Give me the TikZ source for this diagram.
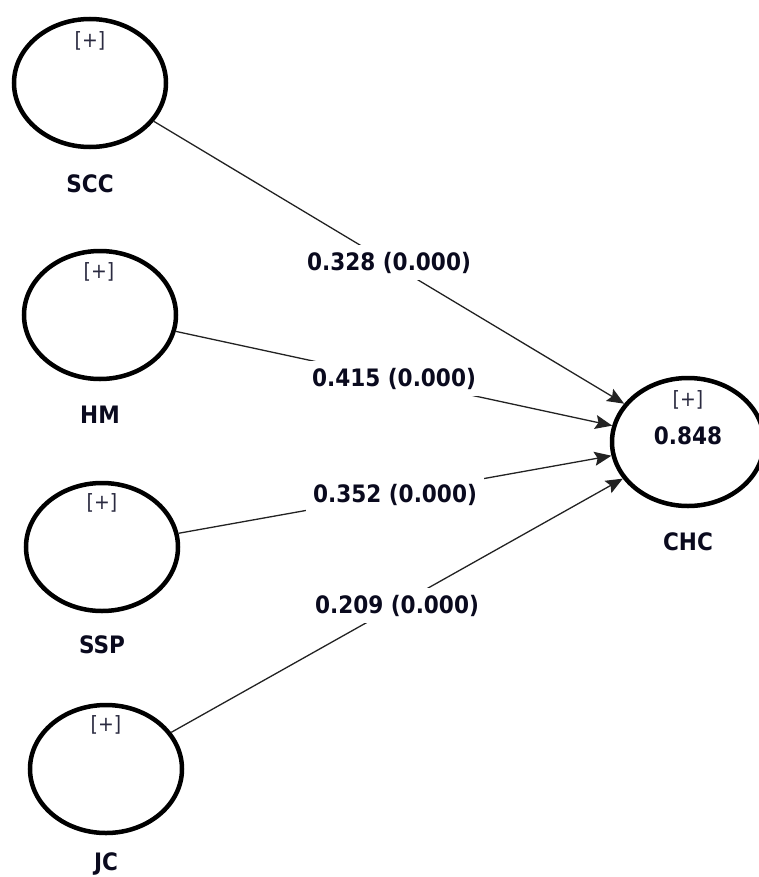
\documentclass[tikz,border=0pt]{standalone}
\usepackage{fontspec}
\setmainfont{DejaVu Sans Condensed}
\usetikzlibrary{shapes.geometric,arrows.meta}
\definecolor{txt}{HTML}{0A0A1E}
\definecolor{plus}{HTML}{2A2A40}
\definecolor{edge}{HTML}{222222}
\tikzset{
  lv/.style={draw=black, line width=4.5bp, ellipse, minimum width=152bp, minimum height=128bp, inner sep=0pt},
  lvname/.style={font=\fontsize{24bp}{28bp}\selectfont\bfseries, text=txt, inner sep=0pt},
  plusmark/.style={font=\fontsize{21bp}{25bp}\selectfont, text=plus, inner sep=0pt},
  rsq/.style={font=\fontsize{24bp}{28bp}\selectfont\bfseries, text=txt, inner sep=0pt},
  path/.style={draw=edge, line width=1.3bp, -{Stealth[length=17bp,width=14bp,inset=3bp]}},
  coef/.style={font=\fontsize{24bp}{28bp}\selectfont\bfseries, text=txt, fill=white, inner sep=7bp}
}
\begin{document}
\begin{tikzpicture}[x=1bp,y=-1bp]
\useasboundingbox (0,0) rectangle (759,877);
\clip (0,0) rectangle (759,877);
% latent variables
\node[lv] (scc) at (90,83) {};
\node[lv] (hm) at (100,315) {};
\node[lv] (ssp) at (102,547) {};
\node[lv] (jc) at (106,769) {};
\node[lv] (chc) at (688,442) {};
% [+] markers
\node[plusmark] (sccp) at (90,41) {[+]};
\node[plusmark] (hmp) at (99,272) {[+]};
\node[plusmark] (sspp) at (102,503) {[+]};
\node[plusmark] (jcp) at (106,725) {[+]};
\node[plusmark] (chcp) at (688,400) {[+]};
\node[rsq] (chcr) at (688,436) {0.848};
% names
\node[lvname] (sccn) at (90,184) {SCC};
\node[lvname] (hmn) at (100,415) {HM};
\node[lvname] (sspn) at (102,645) {SSP};
\node[lvname] (jcn) at (106,864) {JC};
\node[lvname] (chcn) at (688,542) {CHC};
% paths
\draw[path] (scc) -- (chc) node[coef, midway] (c1) {0.328 (0.000)};
\draw[path] (hm) -- (chc) node[coef, midway] (c2) {0.415 (0.000)};
\draw[path] (ssp) -- (chc) node[coef, midway] (c3) {0.352 (0.000)};
\draw[path] (jc) -- (chc) node[coef, midway] (c4) {0.209 (0.000)};
\end{tikzpicture}
\end{document}
